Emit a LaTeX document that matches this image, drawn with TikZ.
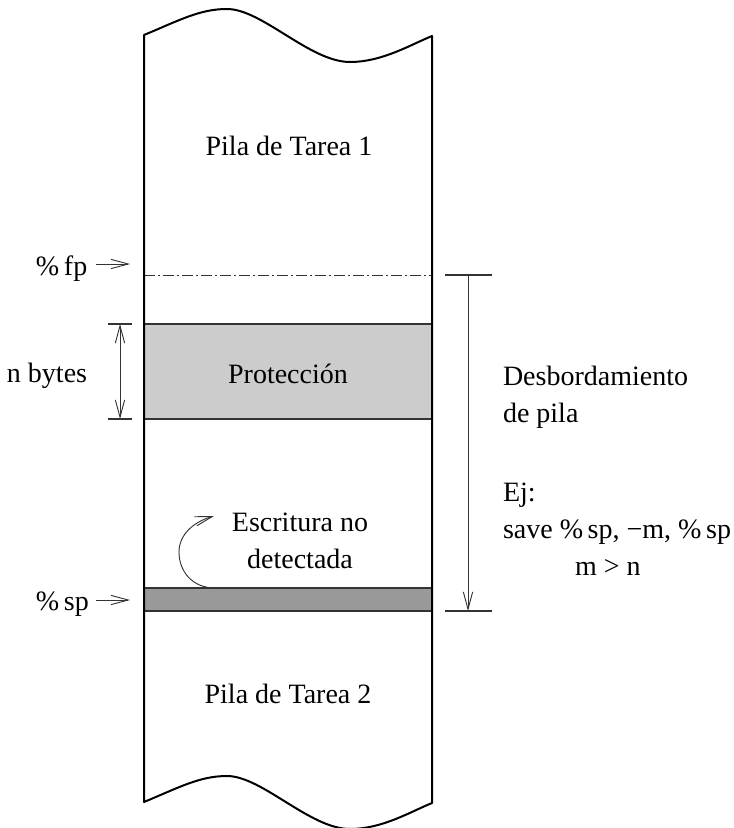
\documentclass[tikz,border=0pt]{standalone}
\usepackage{fontspec}
\setmainfont{Liberation Serif}
\usetikzlibrary{arrows.meta}
\definecolor{protgray}{HTML}{CCCCCC}
\definecolor{bargray}{HTML}{999999}
\definecolor{linegray}{HTML}{333333}
\begin{document}
\begin{tikzpicture}[x=0.75pt,y=-0.75pt,
  every node/.style={font=\fontsize{21}{25}\selectfont, inner sep=0pt, outer sep=0pt},
  colline/.style={line width=1.5pt, black},
  boxline/.style={line width=1.4pt, linegray},
  thinarrow/.style={line width=0.7pt, linegray, -{Straight Barb[length=13pt,width=7pt]}},
  dblarrow/.style={line width=0.7pt, linegray, {Straight Barb[length=13pt,width=7pt]}-{Straight Barb[length=13pt,width=7pt]}},
  tick/.style={line width=0.8pt, linegray},
  dashdot/.style={line width=0.7pt, linegray, dash pattern=on 8.25pt off 2.25pt on 1.5pt off 2.25pt}]
\useasboundingbox (0,0) rectangle (733,828);

% shaded regions
\fill[protgray] (144,324) rectangle (432,419);
\fill[bargray] (144,588) rectangle (432,611);
\draw[boxline] (144,324) -- (432,324);
\draw[boxline] (144,419) -- (432,419);
\draw[boxline] (144,588) -- (432,588);
\draw[boxline] (144,611) -- (432,611);

% fp dash-dot line
\coordinate (fpL) at (144,275);
\coordinate (fpR) at (432,275);
\draw[dashdot] (fpL) -- (fpR);

% column outline
\draw[colline, line join=round]
  (144,35) .. controls (180,20) and (200,9) .. (227,9)
  .. controls (262,9) and (310,62) .. (350,62)
  .. controls (382,62) and (410,45) .. (432,36)
  -- (432,803)
  .. controls (410,812) and (382,829) .. (350,829)
  .. controls (310,829) and (262,776) .. (227,776)
  .. controls (200,776) and (180,787) .. (144,802)
  -- cycle;

% texts inside column
\node[anchor=base] (t1) at (289,155) {Pila de Tarea 1};
\node[anchor=base] (prot) at (288,383) {Protección};
\node[anchor=base] (esc1) at (300,531) {Escritura no};
\node[anchor=base] (esc2) at (300,568) {detectada};
\node[anchor=base] (t2) at (288,703) {Pila de Tarea 2};

% left labels
\node[anchor=base west] (fp) at (36,275) {\%\,fp};
\node[anchor=base west] (sp) at (36,610) {\%\,sp};
\node[anchor=base west] (nb) at (7,382) {n bytes};
\coordinate (fpA) at (96,264);
\coordinate (fpB) at (130,264);
\coordinate (spA) at (96,600);
\coordinate (spB) at (130,600);
\draw[thinarrow] (fpA) -- (fpB);
\draw[thinarrow] (spA) -- (spB);

% n bytes dimension
\coordinate (nt1) at (108,324);
\coordinate (nt2) at (132,324);
\coordinate (nb1) at (108,419);
\coordinate (nb2) at (132,419);
\coordinate (na) at (120,324);
\coordinate (nz) at (120,419);
\draw[tick] (nt1) -- (nt2);
\draw[tick] (nb1) -- (nb2);
\draw[dblarrow] (na) -- (nz);

% curved arrow
\coordinate (cs) at (215,588);
\coordinate (ce) at (214,516);
\draw[thinarrow] (cs) .. controls (192,588) and (179,571) .. (179,552)
  .. controls (179,535) and (193,522) .. (ce);

% right dimension
\coordinate (rt1) at (445,275);
\coordinate (rt2) at (492,275);
\coordinate (rb1) at (445,611);
\coordinate (rb2) at (492,611);
\coordinate (ra) at (468,275);
\coordinate (rz) at (468,611);
\draw[tick] (rt1) -- (rt2);
\draw[tick] (rb1) -- (rb2);
\draw[thinarrow] (ra) -- (rz);

% right texts
\node[anchor=base west] (d1) at (503,385) {Desbordamiento};
\node[anchor=base west] (d2) at (503,422) {de pila};
\node[anchor=base west] (e1) at (503,501) {Ej:};
\node[anchor=base west] (e2) at (503,538) {save \%\,sp, −m, \%\,sp};
\node[anchor=base west] (e3) at (575,575) {m > n};
\end{tikzpicture}
\end{document}
